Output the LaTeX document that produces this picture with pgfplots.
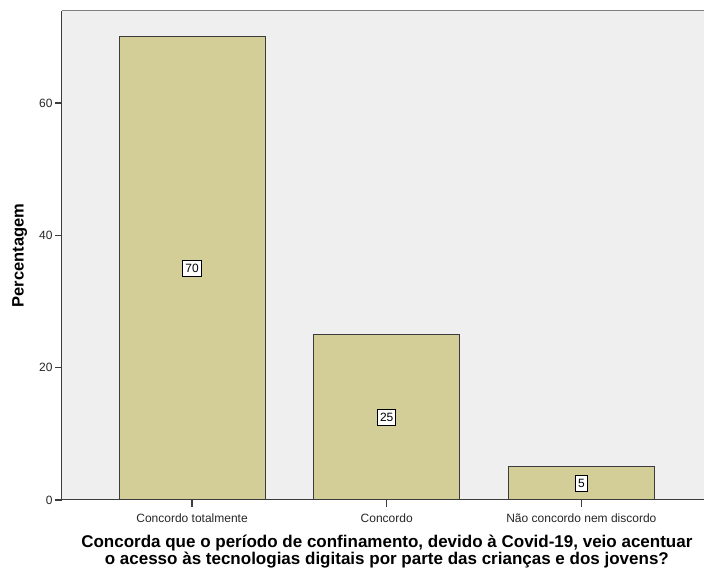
\documentclass[border=0pt]{standalone}
\usepackage{pgfplots}
\pgfplotsset{compat=1.18}
\usepackage{fontspec}
\setmainfont{Liberation Sans}
\definecolor{barfill}{RGB}{211,206,151}
\definecolor{bgfill}{RGB}{239,239,239}
\definecolor{edge}{RGB}{60,60,60}
\begin{document}
\begin{tikzpicture}
\path[use as bounding box] (0pt,0pt) rectangle (704pt,570pt);
\begin{axis}[
  at={(62pt,70pt)}, anchor=south west,
  width=642pt, height=489pt, scale only axis,
  xmin=-0.668, xmax=2.63, ymin=0, ymax=73.9,
  axis background/.style={fill=bgfill},
  axis x line*=bottom, axis y line*=left,
  axis line style={draw=edge, line width=1pt, -},
  xtick={0,1,2},
  xticklabels={Concordo totalmente, Concordo, Não concordo nem discordo},
  ytick={0,20,40,60},
  major tick length=0pt,
  /pgf/number format/assume math mode=true,
  tick label style={font=\fontsize{12}{13}\selectfont, text=black!85},
  xticklabel style={yshift=-10pt},
  yticklabel style={xshift=-6pt},
  ylabel={Percentagem},
  ylabel style={font=\fontsize{16.5}{18}\selectfont\bfseries, at={(axis description cs:-0.066,0.5)}, anchor=center},
  xlabel={Concorda que o período de confinamento, devido à Covid-19, veio acentuar\\o acesso às tecnologias digitais por parte das crianças e dos jovens?},
  xlabel style={font=\fontsize{17}{14}\selectfont\bfseries, align=center, at={(axis description cs:0.506,0)}, anchor=center, yshift=-52pt},
  clip=false,
]
\addplot[ybar, bar shift=0pt, bar width=0.75, fill=barfill, draw=edge, line width=1pt]
  coordinates {(0,70) (1,25) (2,5)};
\addplot[draw=none, mark=none, nodes near coords, point meta=explicit,
  every node near coord/.style={anchor=center, fill=white, draw=black, line width=0.8pt, inner xsep=2.5pt, inner ysep=3.5pt, font=\fontsize{12}{13}\selectfont, text=black}]
  coordinates {(0,35)[70] (1,12.5)[25] (2,2.5)[5]};
\draw[color=gray, line width=1pt] (rel axis cs:0,1) -- (rel axis cs:1,1);
\draw[edge, line width=1.2pt] (axis cs:-0.668,0) -- ++(-7pt,0pt);
\draw[edge, line width=1.2pt] (axis cs:-0.668,20) -- ++(-7pt,0pt);
\draw[edge, line width=1.2pt] (axis cs:-0.668,40) -- ++(-7pt,0pt);
\draw[edge, line width=1.2pt] (axis cs:-0.668,60) -- ++(-7pt,0pt);
\draw[edge, line width=1.2pt] (axis cs:0,0) -- ++(0pt,-7pt);
\draw[edge, line width=1.2pt] (axis cs:1,0) -- ++(0pt,-7pt);
\draw[edge, line width=1.2pt] (axis cs:2,0) -- ++(0pt,-7pt);
\end{axis}
\end{tikzpicture}
\end{document}
